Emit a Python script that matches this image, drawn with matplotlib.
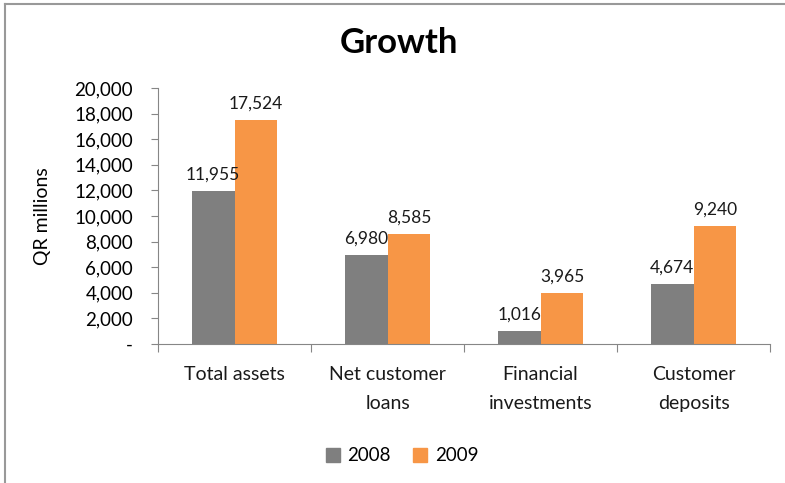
import matplotlib
matplotlib.use('Agg')
import matplotlib.pyplot as plt
import numpy as np
from matplotlib.lines import Line2D
from matplotlib.ticker import FuncFormatter

plt.rcParams['font.family'] = ['Lato', 'DejaVu Sans']

categories = ["Total assets", "Net customer\nloans", "Financial\ninvestments", "Customer\ndeposits"]
years = ["2008", "2009"]
values_2008 = [11955, 6980, 1016, 4674]
values_2009 = [17524, 8585, 3965, 9240]
colors = ["#7f7f7f", "#f79646"]

fig = plt.figure(figsize=(7.85, 4.83), dpi=100)
ax = fig.add_axes([0.2013, 0.2878, 0.7797, 0.53])

x = np.arange(len(categories))
w = 0.28
b1 = ax.bar(x - w / 2, values_2008, w, color=colors[0], label=years[0])
b2 = ax.bar(x + w / 2, values_2009, w, color=colors[1], label=years[1])

for bars in (b1, b2):
    for r in bars:
        ax.annotate(f"{int(r.get_height()):,}", (r.get_x() + r.get_width() / 2, r.get_height()),
                    xytext=(0, 6), textcoords="offset points", ha="center", va="bottom",
                    fontsize=12.5, color="#1a1a1a")

ax.set_xlim(-0.5, 3.5)
ax.set_ylim(0, 20000)
ax.set_yticks(np.arange(0, 20001, 2000))
ax.yaxis.set_major_formatter(FuncFormatter(lambda v, p: "-" if v == 0 else f"{int(v):,}"))
ax.tick_params(axis="y", labelsize=13.5, length=5, color="#868686", pad=13)

# category labels centred, ticks on the boundaries
ax.set_xticks(np.arange(-0.5, 4, 1))
ax.set_xticklabels([])
ax.tick_params(axis="x", length=6, color="#868686")
for i, c in enumerate(categories):
    ax.text(i, -1750, c, ha="center", va="top", fontsize=14, linespacing=1.8, color="#1a1a1a")

for s in ("top", "right"):
    ax.spines[s].set_visible(False)
for s in ("left", "bottom"):
    ax.spines[s].set_color("#868686")

ax.set_ylabel("QR millions", fontsize=14, labelpad=17)
fig.text(0.508, 0.91, "Growth", ha="center", va="center", fontsize=25, fontweight="bold")

handles = [plt.Rectangle((0, 0), 1, 1, color=c) for c in colors]
fig.legend(handles, years, loc="center", bbox_to_anchor=(0.512, 0.056), ncol=2, frameon=False,
           fontsize=13.5, handlelength=0.75, handleheight=0.75, handletextpad=0.4, columnspacing=1.2)

# chart border (top and left edges visible)
fig.add_artist(Line2D([0.0064, 1.0], [0.992, 0.992], color="#999999", lw=1.5, transform=fig.transFigure))
fig.add_artist(Line2D([0.0064, 0.0064], [0.0, 0.992], color="#999999", lw=1.5, transform=fig.transFigure))

fig.savefig("out.png", dpi=100)
